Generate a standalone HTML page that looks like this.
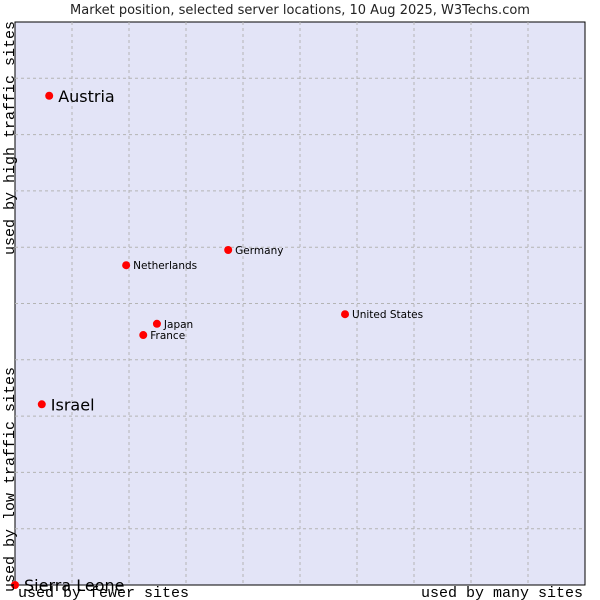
<!DOCTYPE html>
<html><head><meta charset="utf-8"><style>
body{margin:0;background:#fff;width:600px;height:600px;overflow:hidden}
svg{display:block}
</style></head><body>
<svg id="chart" width="600" height="600">
<text x="300" y="14" text-anchor="middle" font-family="DejaVu Sans, sans-serif" font-size="13" fill="#222">Market position, selected server locations, 10 Aug 2025, W3Techs.com</text>
<rect x="15" y="22" width="570" height="563" fill="#e3e4f7" stroke="#000" stroke-width="1"/>
<g id="grid"></g>
<g id="points"></g>
<text transform="translate(14,255) rotate(-90)" font-family="Liberation Mono, monospace" font-size="15" fill="#000">used by high traffic sites</text>
<text transform="translate(14,592) rotate(-90)" font-family="Liberation Mono, monospace" font-size="15" fill="#000">used by low traffic sites</text>
<text x="18" y="597" font-family="Liberation Mono, monospace" font-size="15" fill="#000">used by fewer sites</text>
<text x="583" y="597" text-anchor="end" font-family="Liberation Mono, monospace" font-size="15" fill="#000">used by many sites</text>
</svg>
<script>
const countries=["Austria","Israel","Sierra Leone","Netherlands","Germany","United States","Japan","France"];
const xValues=[6.0,4.7,0,19.5,37.4,57.9,24.9,22.5];
const yValues=[86.9,32.1,0,56.8,59.5,48.1,46.4,44.4];
const bigLabel=[true,true,true,false,false,false,false,false];
const L=15,R=585,T=22,B=585;
const sx=v=>L+(R-L)*v/100, sy=v=>B-(B-T)*v/100;
const NS="http://www.w3.org/2000/svg";
const grid=document.getElementById('grid');
for(let i=1;i<10;i++){
 const v=document.createElementNS(NS,'line');
 
 
 v.setAttribute('x1',sx(i*10));v.setAttribute('x2',sx(i*10));v.setAttribute('y1',T);v.setAttribute('y2',B);
 v.setAttribute('stroke','#b4b4b4');v.setAttribute('stroke-dasharray','3,3');grid.appendChild(v);
 const h=document.createElementNS(NS,'line');
 
 
 h.setAttribute('y1',sy(i*10));h.setAttribute('y2',sy(i*10));h.setAttribute('x1',L);h.setAttribute('x2',R);
 h.setAttribute('stroke','#b4b4b4');h.setAttribute('stroke-dasharray','3,3');grid.appendChild(h);
}
const pts=document.getElementById('points');
countries.forEach((c,i)=>{
 const x=sx(xValues[i]),y=sy(yValues[i]);
 const m=document.createElementNS(NS,'circle');
 
 
 m.setAttribute('cx',x);m.setAttribute('cy',y);m.setAttribute('r',4);m.setAttribute('fill','#f00');
 pts.appendChild(m);
 const t=document.createElementNS(NS,'text');
 
 
 const big=bigLabel[i];
 t.setAttribute('x',x+(big?9:7));t.setAttribute('y',y+(big?6:4));
 t.setAttribute('font-family','DejaVu Sans, sans-serif');
 t.setAttribute('font-size',big?16:10.5);
 t.setAttribute('fill','#000');
 t.textContent=c;pts.appendChild(t);
});
</script>
</body></html>
